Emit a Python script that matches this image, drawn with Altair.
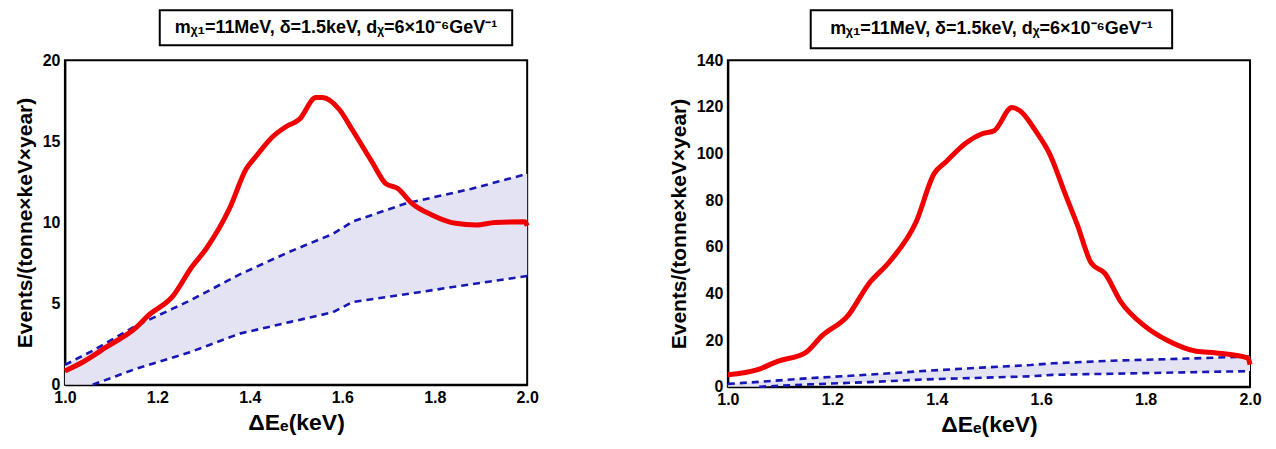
import altair as alt
import pandas as pd

# ---- data ----
band_x = [1.0, 1.06, 1.155, 1.27, 1.378, 1.486, 1.58, 1.622, 1.737, 1.88, 2.0]
band_upper = [1.22, 2.1, 3.65, 5.18, 6.8, 8.2, 9.3, 10.05, 11.17, 12.08, 13.0]
band_lower = [None, 0.0, 1.0, 2.0, 3.15, 3.86, 4.47, 5.1, 5.58, 6.2, 6.7]

left_x = [1.0, 1.04, 1.09, 1.155, 1.18, 1.234, 1.273, 1.306, 1.356, 1.392, 1.414,
          1.45, 1.478, 1.507, 1.543, 1.557, 1.594, 1.622, 1.665, 1.694, 1.72,
          1.75, 1.795, 1.845, 1.89, 1.93, 1.995, 2.0]
left_y = [0.85, 1.42, 2.33, 3.55, 4.26, 5.48, 7.2, 8.4, 10.86, 13.3, 14.1,
          15.3, 15.9, 16.35, 17.7, 17.7, 16.95, 15.7, 13.7, 12.4, 12.1,
          11.2, 10.45, 9.95, 9.85, 10.0, 10.05, 9.8]

right_x = [1.0, 1.057, 1.095, 1.148, 1.18, 1.23, 1.27, 1.31, 1.36, 1.395, 1.418,
           1.456, 1.487, 1.51, 1.544, 1.56, 1.59, 1.616, 1.646, 1.669, 1.696,
           1.722, 1.753, 1.798, 1.844, 1.897, 1.935, 1.996, 2.0]
right_y = [5.1, 7.3, 10.9, 14.5, 21.8, 30.5, 44.2, 53.7, 70.4, 91.4, 96.5,
           104.5, 108.5, 109.8, 119.7, 118.2, 109.5, 100.0, 82.7, 69.6, 53.0,
           48.6, 36.3, 26.1, 19.6, 15.2, 14.5, 12.3, 9.5]

x_major = [1.0, 1.2, 1.4, 1.6, 1.8, 2.0]
left_y_major = [0, 5, 10, 15, 20]
right_y_major = [0, 20, 40, 60, 80, 100, 120, 140]

title_text = ["mᵪ₁=11MeV, δ=1.5keV, dᵪ=6×10⁻⁶GeV⁻¹"]
x_title = "ΔEₑ(keV)"
y_title = "Events/(tonne×keV×year)"

RED = "#f00000"
BLUE = "#1717b5"
FILL = "#e3e3f3"
FONT = "Liberation Sans"


def panel(w, h, ymax, rx, ry, ymaj, box):
    xs = alt.Scale(domain=[1.0, 2.0], nice=False, zero=False, padding=0)
    ys = alt.Scale(domain=[0, ymax], nice=False, zero=False, padding=0)
    band = pd.DataFrame({"x": band_x, "hi": band_upper,
                         "fill_lo": [0.0 if v is None else v for v in band_lower]})
    lower = pd.DataFrame({"x": [x for x, v in zip(band_x, band_lower) if v is not None],
                          "lo": [v for v in band_lower if v is not None]})
    red = pd.DataFrame({"x": rx, "y": ry})

    area = alt.Chart(band).mark_area(color=FILL, opacity=1).encode(
        x=alt.X("x:Q", scale=xs,
                axis=alt.Axis(values=x_major, format=".1f", title=x_title,
                              labelPadding=5, titlePadding=6, titleFontSize=23,
                              labelFlush=False)),
        y=alt.Y("fill_lo:Q", scale=ys,
                axis=alt.Axis(values=ymaj, format="d", title=y_title,
                              labelPadding=5, titlePadding=7, titleFontSize=21,
                              labelFlush=False)),
        y2="hi:Q",
    )
    up = alt.Chart(band).mark_line(color=BLUE, strokeWidth=2.6, strokeDash=[7, 5]).encode(
        x="x:Q", y="hi:Q")
    lo = alt.Chart(lower).mark_line(color=BLUE, strokeWidth=2.6, strokeDash=[7, 5]).encode(
        x="x:Q", y="lo:Q")
    line = alt.Chart(red).mark_line(color=RED, strokeWidth=5, interpolate="monotone").encode(
        x="x:Q", y="y:Q")

    bx0, bx1, by0, by1 = box
    tdf = pd.DataFrame({"t": title_text})
    rect = alt.Chart(tdf).mark_rect(fill="white", stroke="black", strokeWidth=2).encode(
        x=alt.value(bx0), x2=alt.value(bx1), y=alt.value(by0), y2=alt.value(by1))
    txt = alt.Chart(tdf).mark_text(font=FONT, fontSize=18, fontWeight="bold", color="black",
                                   align="center", baseline="middle").encode(
        x=alt.value((bx0 + bx1) / 2), y=alt.value((by0 + by1) / 2), text="t:N")

    return alt.layer(area, up, lo, line, rect, txt).properties(width=w, height=h)


left = panel(463, 325, 20, left_x, left_y, left_y_major, (95, 448, -50, -15))
right = panel(523, 327, 140, right_x, right_y, right_y_major, (83, 445, -50, -12))

chart = alt.hconcat(left, right, spacing=127).properties(
    padding={"left": 5, "top": 0, "right": 5, "bottom": 5}
).configure_view(stroke="#000000", strokeWidth=2).configure_axis(
    labelFont=FONT, titleFont=FONT, labelFontSize=16,
    labelFontWeight="bold", titleFontWeight="bold", labelColor="black", titleColor="black",
    domain=True, domainColor="#000000", domainWidth=2, ticks=False, grid=False
)

chart.save("out.html", embed_options={"renderer": "svg", "actions": False})
